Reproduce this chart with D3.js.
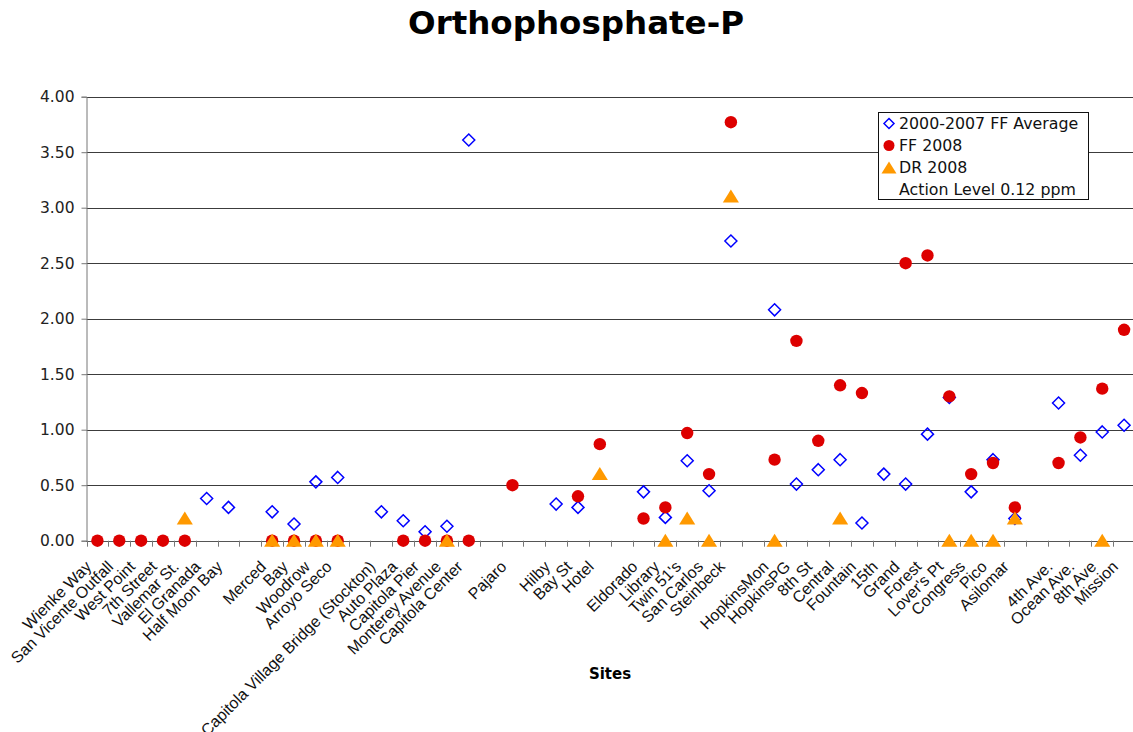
<!DOCTYPE html>
<html>
<head>
<meta charset="utf-8">
<script src="https://cdn.jsdelivr.net/npm/d3@7"></script>
<style>
  body { margin: 0; background: #fff; }
  svg { display: block; }
</style>
</head>
<body>
<svg width="1133" height="732"></svg>
<script>
// sites along the x axis ("" = empty slot between groups)
var sites = ["Wienke Way", "San Vicente Outfall", "West Point", "7th Street", "Vallemar St.", "El Granada", "Half Moon Bay", "",
    "Merced", "Bay", "Woodrow", "Arroyo Seco", "",
    "Capitola Village Bridge (Stockton)", "Auto Plaza", "Capitola Pier", "Monterey Avenue", "Capitola Center", "",
    "Pajaro", "", "Hilby", "Bay St", "Hotel", "",
    "Eldorado", "Library", "Twin 51's", "San Carlos", "Steinbeck", "",
    "HopkinsMon", "HopkinsPG", "8th St", "Central", "Fountain", "15th", "Grand", "Forest", "Lover's Pt", "Congress", "Pico", "Asilomar", "",
    "4th Ave.", "Ocean Ave.", "8th Ave", "Mission"];

var avg0007 = [null, null, null, null, null, 0.38, 0.30, null,
    0.26, 0.15, 0.53, 0.57, null,
    0.26, 0.18, 0.08, 0.13, 3.61, null,
    null, null, 0.33, 0.30, null, null,
    0.44, 0.21, 0.72, 0.45, 2.70, null,
    2.08, 0.51, 0.64, 0.73, 0.16, 0.60, 0.51, 0.96, 1.29, 0.44, 0.73, 0.20, null,
    1.24, 0.77, 0.98, 1.04];

var ff2008 = [0, 0, 0, 0, 0, null, null, null,
    0, 0, 0, 0, null,
    null, 0, 0, 0, 0, null,
    0.50, null, null, 0.40, 0.87, null,
    0.20, 0.30, 0.97, 0.60, 3.77, null,
    0.73, 1.80, 0.90, 1.40, 1.33, null, 2.50, 2.57, 1.30, 0.60, 0.70, 0.30, null,
    0.70, 0.93, 1.37, 1.90];

var dr2008 = [null, null, null, null, 0.20, null, null, null,
    0, 0, 0, 0, null,
    null, null, null, 0, null, null,
    null, null, null, null, 0.60, null,
    null, 0, 0.20, 0, 3.10, null,
    0, null, null, 0.20, null, null, null, null, 0, 0, 0, 0.20, null,
    null, null, 0, null];

var yTicks = [0, 0.5, 1, 1.5, 2, 2.5, 3, 3.5, 4];
var legendLabels = ["2000-2007 FF Average", "FF 2008", "DR 2008", "Action Level 0.12 ppm"];

var svg = d3.select("svg");

var plotLeft = 86.5, plotRight = 1135, plotTop = 96.7, plotBottom = 540.7;

var x = d3.scaleBand()
    .domain(d3.range(sites.length))
    .range([plotLeft, plotRight]);

var y = d3.scaleLinear()
    .domain([0, 4])
    .range([plotBottom, plotTop]);

// title
svg.append("text")
    .attr("x", 576)
    .attr("y", 34)
    .attr("text-anchor", "middle")
    .attr("font-family", "DejaVu Sans")
    .attr("font-weight", "bold")
    .attr("font-size", "32.5px")
    .text("Orthophosphate-P");

// horizontal grid lines
svg.append("g")
    .selectAll("line")
    .data(yTicks)
    .enter()
    .append("line")
    .attr("x1", plotLeft)
    .attr("x2", plotRight)
    .attr("y1", function (d) { return Math.round(y(d)) + 0.5; })
    .attr("y2", function (d) { return Math.round(y(d)) + 0.5; })
    .attr("stroke", "#3c3c3c")
    .attr("stroke-width", 1.2);

// y axis
var yAxis = svg.append("g")
    .attr("transform", "translate(" + plotLeft + ",0)")
    .call(d3.axisLeft(y).tickValues(yTicks).tickFormat(d3.format(".2f")).tickSize(5).tickPadding(7));
yAxis.select(".domain").attr("stroke", "#777");
yAxis.selectAll(".tick line").attr("stroke", "#777");
yAxis.selectAll("text")
    .attr("font-family", "DejaVu Sans")
    .attr("font-size", "15.5px")
    .attr("fill", "#222");

// x axis: ticks on band edges
var xg = svg.append("g");
xg.append("line")
    .attr("x1", plotLeft).attr("x2", plotRight)
    .attr("y1", Math.round(plotBottom) + 0.5).attr("y2", Math.round(plotBottom) + 0.5)
    .attr("stroke", "#555");
xg.selectAll("line.tk")
    .data(d3.range(sites.length + 1))
    .enter()
    .append("line")
    .attr("class", "tk")
    .attr("x1", function (i) { return Math.round(plotLeft + i * x.step()) + 0.5; })
    .attr("x2", function (i) { return Math.round(plotLeft + i * x.step()) + 0.5; })
    .attr("y1", plotBottom)
    .attr("y2", plotBottom + 6)
    .attr("stroke", "#777");

xg.selectAll("text")
    .data(sites)
    .enter()
    .append("text")
    .attr("transform", function (d, i) {
        return "translate(" + (x(i) + x.bandwidth() / 2 - 5) + "," + (plotBottom + 27) + ") rotate(-45)";
    })
    .attr("text-anchor", "end")
    .attr("font-family", "Liberation Sans")
    .attr("font-size", "16px")
    .attr("fill", "#111")
    .text(function (d) { return d; });

// axis title
svg.append("text")
    .attr("x", 610)
    .attr("y", 679)
    .attr("text-anchor", "middle")
    .attr("font-family", "DejaVu Sans")
    .attr("font-weight", "bold")
    .attr("font-size", "15px")
    .text("Sites");

function cx(i) { return x(i) + x.bandwidth() / 2; }

function diamond(px, py, r) {
    return "M" + px + "," + (py - r) + "L" + (px + r) + "," + py + "L" + px + "," + (py + r) + "L" + (px - r) + "," + py + "Z";
}
function triangle(px, py, r) {
    return "M" + px + "," + (py - r) + "L" + (px + r * 1.15) + "," + (py + r * 0.85) + "L" + (px - r * 1.15) + "," + (py + r * 0.85) + "Z";
}

var marks = svg.append("g");

// 2000-2007 average (open blue diamonds)
marks.selectAll("path.avg")
    .data(avg0007.map(function (v, i) { return { i: i, v: v }; }).filter(function (d) { return d.v !== null; }))
    .enter()
    .append("path")
    .attr("class", "avg")
    .attr("d", function (d) { return diamond(cx(d.i), y(d.v), 6); })
    .attr("fill", "none")
    .attr("stroke", "#0000ff")
    .attr("stroke-width", 1.5);

// FF 2008 (red dots)
marks.selectAll("circle.ff")
    .data(ff2008.map(function (v, i) { return { i: i, v: v }; }).filter(function (d) { return d.v !== null; }))
    .enter()
    .append("circle")
    .attr("class", "ff")
    .attr("cx", function (d) { return cx(d.i); })
    .attr("cy", function (d) { return y(d.v); })
    .attr("r", 6.2)
    .attr("fill", "#dd0000");

// DR 2008 (orange triangles)
marks.selectAll("path.dr")
    .data(dr2008.map(function (v, i) { return { i: i, v: v }; }).filter(function (d) { return d.v !== null; }))
    .enter()
    .append("path")
    .attr("class", "dr")
    .attr("d", function (d) { return triangle(cx(d.i), y(d.v), 7); })
    .attr("fill", "#ff9900");

// legend
var lg = svg.append("g").attr("transform", "translate(878,112)");
lg.append("rect")
    .attr("x", 0.5).attr("y", 0.5)
    .attr("width", 210).attr("height", 87)
    .attr("fill", "#fff")
    .attr("stroke", "#111");

var item = lg.selectAll("g.item")
    .data(legendLabels)
    .enter()
    .append("g")
    .attr("class", "item")
    .attr("transform", function (d, i) { return "translate(0," + (11.5 + i * 22) + ")"; });

item.append("text")
    .attr("x", 21)
    .attr("dy", "0.36em")
    .attr("font-family", "DejaVu Sans")
    .attr("font-size", "15.8px")
    .attr("fill", "#111")
    .text(function (d) { return d; });

lg.append("path").attr("d", diamond(11, 11.5, 5)).attr("fill", "none").attr("stroke", "#0000ff").attr("stroke-width", 1.5);
lg.append("circle").attr("cx", 11).attr("cy", 33.5).attr("r", 5.5).attr("fill", "#dd0000");
lg.append("path").attr("d", triangle(11, 56, 6.5)).attr("fill", "#ff9900");
</script>
</body>
</html>
